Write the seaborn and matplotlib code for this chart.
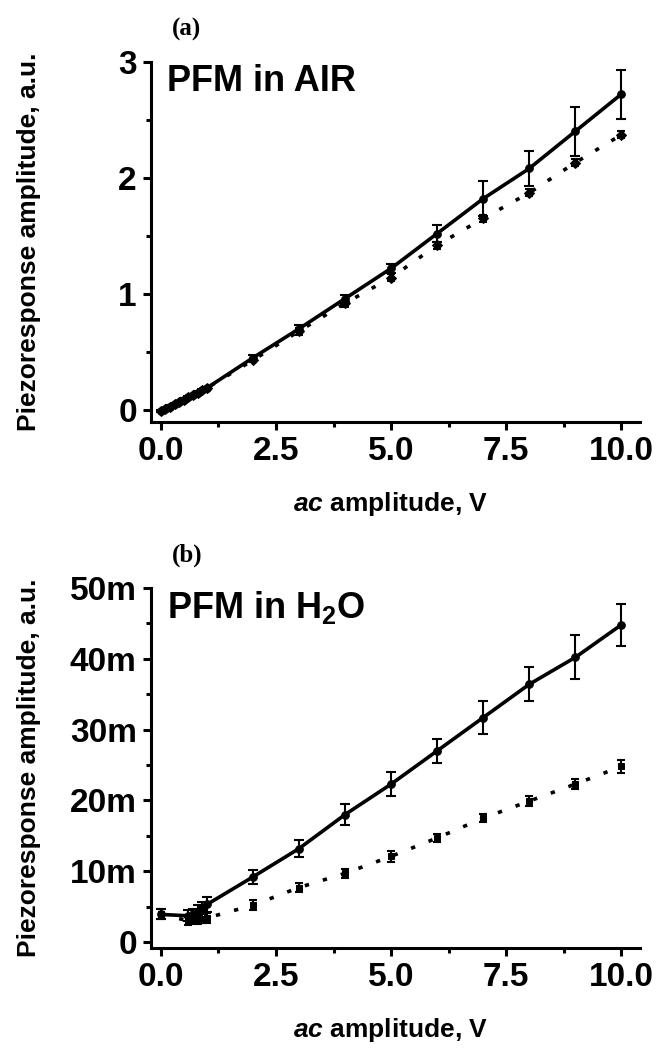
import matplotlib
matplotlib.use("Agg")
import matplotlib.pyplot as plt
import seaborn as sns
from matplotlib.ticker import MultipleLocator, FuncFormatter, FormatStrFormatter

# --- data (a): PFM in air ---
x_air = [0.0, 0.1, 0.2, 0.3, 0.4, 0.5, 0.6, 0.7, 0.8, 0.9, 1.0, 2, 3, 4, 5, 6, 7, 8, 9, 10]
air_upper = [-0.01, 0.01, 0.03, 0.05, 0.07, 0.09, 0.11, 0.13, 0.15, 0.17, 0.19,
             0.45, 0.70, 0.96, 1.22, 1.52, 1.82, 2.08, 2.40, 2.72]
air_upper_err = [0.01, 0.01, 0.01, 0.01, 0.01, 0.01, 0.01, 0.01, 0.01, 0.01, 0.01,
                 0.02, 0.03, 0.03, 0.04, 0.07, 0.15, 0.15, 0.21, 0.21]
air_lower = [-0.01, 0.01, 0.03, 0.05, 0.07, 0.09, 0.11, 0.13, 0.15, 0.17, 0.19,
             0.43, 0.68, 0.92, 1.14, 1.42, 1.65, 1.87, 2.13, 2.37]
air_lower_err = [0.01, 0.01, 0.01, 0.01, 0.01, 0.01, 0.01, 0.01, 0.01, 0.01, 0.01,
                 0.02, 0.03, 0.03, 0.03, 0.03, 0.03, 0.03, 0.03, 0.03]

# --- data (b): PFM in water (values in milli a.u.) ---
x_h2o = [0.0, 0.6, 0.7, 0.8, 0.9, 1.0, 2, 3, 4, 5, 6, 7, 8, 9, 10]
h2o_upper = [3.9, 3.7, 3.9, 4.3, 4.8, 5.3, 9.2, 13.2, 18.0, 22.3, 27.0, 31.7, 36.4, 40.2, 44.8]
h2o_upper_err = [0.7, 0.8, 0.8, 0.9, 0.9, 1.0, 1.0, 1.25, 1.5, 1.7, 1.7, 2.35, 2.4, 3.1, 3.0]
h2o_lower = [3.9, 3.0, 3.1, 3.2, 3.3, 3.4, 5.2, 7.7, 9.7, 12.1, 14.7, 17.5, 19.9, 22.3, 24.8]
h2o_lower_err = [0.7, 0.6, 0.6, 0.6, 0.6, 0.7, 0.7, 0.7, 0.6, 0.8, 0.6, 0.6, 0.7, 0.7, 0.9]

sns.set_style("ticks")
plt.rcParams['font.family'] = ['Liberation Sans', 'DejaVu Sans']
plt.rcParams['font.weight'] = 'bold'
plt.rcParams['text.color'] = 'black'
plt.rcParams['axes.labelcolor'] = 'black'
plt.rcParams['axes.edgecolor'] = 'black'
plt.rcParams['xtick.color'] = 'black'
plt.rcParams['ytick.color'] = 'black'
plt.rcParams['mathtext.fontset'] = 'custom'
plt.rcParams['mathtext.rm'] = 'Liberation Sans:bold'
plt.rcParams['mathtext.bf'] = 'Liberation Sans:bold'
plt.rcParams['mathtext.it'] = 'Liberation Sans:bold:italic'
plt.rcParams['mathtext.bfit'] = 'Liberation Sans:bold:italic'

fig = plt.figure(figsize=(6.72, 10.5), dpi=100)
ax_a = fig.add_axes([0.2243, 0.5984, 0.7277, 0.3429])
ax_b = fig.add_axes([0.2243, 0.0971, 0.7277, 0.3429])

SOLID = dict(color='black', linewidth=2.6)
DOTS = dict(color='black', linewidth=2.6, linestyle=(0, (1.2, 4.0)))


def draw_panel(ax, x, up, up_err, lo, lo_err, lo_marker):
    sns.lineplot(x=x, y=up, ax=ax, marker='o', markersize=5.5, markeredgecolor='black',
                 sort=False, **SOLID)
    sns.lineplot(x=x, y=lo, ax=ax, marker=lo_marker, markersize=5, markeredgecolor='black',
                 sort=False, **DOTS)
    ax.errorbar(x, up, yerr=up_err, fmt='none', ecolor='black', elinewidth=1.5,
                capsize=3.5, capthick=1.5)
    ax.errorbar(x, lo, yerr=lo_err, fmt='none', ecolor='black', elinewidth=1.5,
                capsize=3, capthick=1.5)


def style_axes(ax):
    sns.despine(ax=ax)
    for s in ['left', 'bottom']:
        ax.spines[s].set_linewidth(2.2)
        ax.spines[s].set_color('black')
    ax.set_xlim(-0.22, 10.4)
    ax.xaxis.set_major_locator(MultipleLocator(2.5))
    ax.xaxis.set_minor_locator(MultipleLocator(1.25))
    ax.xaxis.set_major_formatter(FormatStrFormatter('%.1f'))
    ax.tick_params(which='major', length=6, width=2.2, labelsize=24, pad=4, direction='out',
                   colors='black')
    ax.tick_params(which='minor', length=3.5, width=2.2, direction='out', colors='black')
    ax.set_xlabel(r'$\mathbfit{ac}$ amplitude, V', fontsize=19, fontweight='bold', color='black')
    ax.set_ylabel('Piezoresponse amplitude, a.u.', fontsize=19, fontweight='bold', color='black')
    ax.xaxis.set_label_coords(0.49, -0.19)
    ax.yaxis.set_label_coords(-0.225, 0.5)


# panel (a)
draw_panel(ax_a, x_air, air_upper, air_upper_err, air_lower, air_lower_err, 'D')
style_axes(ax_a)
ax_a.set_ylim(-0.1, 3.0)
ax_a.yaxis.set_major_locator(MultipleLocator(1))
ax_a.yaxis.set_minor_locator(MultipleLocator(0.5))
ax_a.yaxis.set_major_formatter(FormatStrFormatter('%d'))
ax_a.text(0.033, 0.945, 'PFM in AIR', transform=ax_a.transAxes, fontsize=26,
          fontweight='bold', va='center', ha='left', color='black')
ax_a.text(0.074, 1.09, '(a)', transform=ax_a.transAxes, fontsize=18, fontweight='bold',
          family='Liberation Serif', va='center', ha='center', color='black')

# panel (b)
draw_panel(ax_b, x_h2o, h2o_upper, h2o_upper_err, h2o_lower, h2o_lower_err, 's')
style_axes(ax_b)
ax_b.set_ylim(-0.85, 50)
ax_b.yaxis.set_major_locator(MultipleLocator(10))
ax_b.yaxis.set_minor_locator(MultipleLocator(5))
ax_b.yaxis.set_major_formatter(FuncFormatter(lambda v, p: '0' if abs(v) < 1e-9 else f'{int(round(v))}m'))
ax_b.text(0.033, 0.945, r'PFM in H$_{\mathbf{2}}$O', transform=ax_b.transAxes, fontsize=26,
          fontweight='bold', va='center', ha='left', color='black')
ax_b.text(0.074, 1.09, '(b)', transform=ax_b.transAxes, fontsize=18, fontweight='bold',
          family='Liberation Serif', va='center', ha='center', color='black')

for ax in (ax_a, ax_b):
    for lab in ax.get_xticklabels() + ax.get_yticklabels():
        lab.set_fontweight('bold')
        lab.set_color('black')

fig.savefig('out.png', dpi=100)
